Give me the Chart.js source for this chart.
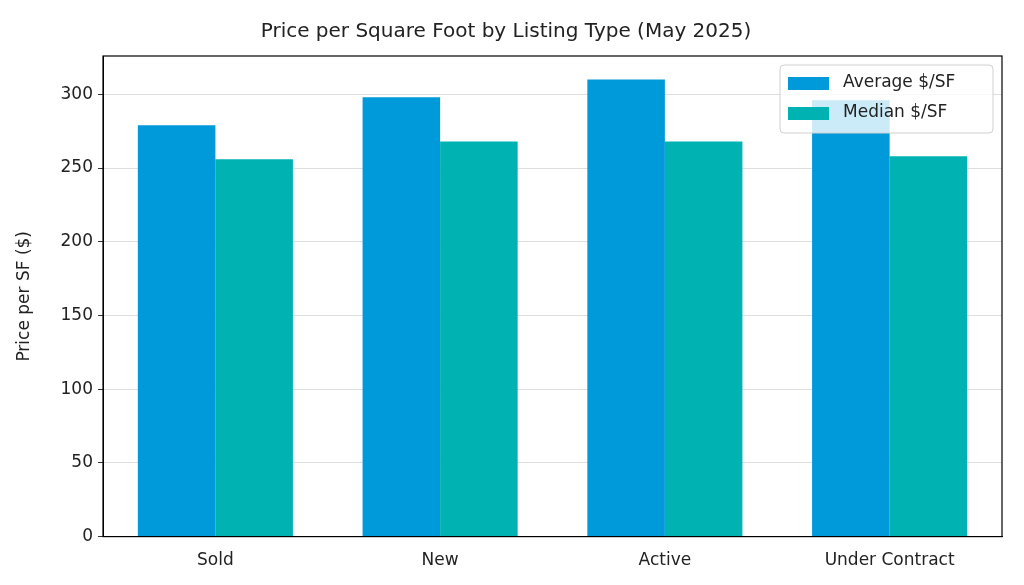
<!DOCTYPE html>
<html>
<head>
<meta charset="utf-8">
<script src="https://cdn.jsdelivr.net/npm/chart.js@4"></script>
<style>
  body { margin: 0; background: #fff; }
  #wrap { width: 1024px; height: 585px; }
</style>
</head>
<body>
<div id="wrap"><canvas id="c"></canvas></div>
<script>
const categories = ['Sold', 'New', 'Active', 'Under Contract'];
const averageValues = [279, 298, 310, 296];
const medianValues = [256, 268, 268, 258];
const yTicks = [0, 50, 100, 150, 200, 250, 300];

const FONT = 'DejaVu Sans';

// marco y leyenda dentro del área del gráfico
const framePlugin = {
  id: 'frame',
  afterDraw(chart) {
    const { ctx, chartArea: a } = chart;
    ctx.save();
    ctx.strokeStyle = '#000';
    ctx.lineWidth = 1.2;
    ctx.strokeRect(a.left, a.top, a.right - a.left, a.bottom - a.top);

    const w = 213, h = 68, x = a.right - w - 9, y = a.top + 9;
    ctx.fillStyle = 'rgba(255,255,255,0.8)';
    ctx.strokeStyle = '#d0d0d0';
    ctx.lineWidth = 1;
    ctx.beginPath();
    ctx.roundRect(x, y, w, h, 4);
    ctx.fill();
    ctx.stroke();
    ctx.font = '17px ' + FONT;
    ctx.textBaseline = 'middle';
    chart.data.datasets.forEach((ds, i) => {
      const ry = y + 18 + i * 30;
      ctx.fillStyle = ds.backgroundColor;
      ctx.fillRect(x + 8, ry - 6, 41, 13);
      ctx.fillStyle = '#222';
      ctx.fillText(ds.label, x + 63, ry);
    });
    ctx.restore();
  }
};

new Chart(document.getElementById('c'), {
  type: 'bar',
  data: {
    labels: categories,
    datasets: [
      { label: 'Average $/SF', data: averageValues, backgroundColor: '#0099D9' },
      { label: 'Median $/SF', data: medianValues, backgroundColor: '#00B2B1' }
    ]
  },
  options: {
    responsive: true,
    maintainAspectRatio: false,
    animation: false,
    layout: { padding: { top: 10, right: 22, bottom: 8, left: 10 } },
    datasets: { bar: { categoryPercentage: 0.69, barPercentage: 1.0 } },
    plugins: {
      legend: { display: false },
      tooltip: { enabled: false },
      title: {
        display: true,
        text: 'Price per Square Foot by Listing Type (May 2025)',
        color: '#222',
        font: { family: FONT, size: 20, weight: 'normal' },
        padding: { top: 10, bottom: 12 }
      }
    },
    scales: {
      x: {
        grid: { display: false },
        border: { color: '#000' },
        ticks: { color: '#222', font: { family: FONT, size: 17 }, padding: 6 }
      },
      y: {
        min: 0,
        max: 326,
        afterBuildTicks: axis => { axis.ticks = yTicks.map(v => ({ value: v })); },
        afterFit: axis => { axis.width = 93; },
        grid: { color: '#d5d5d5', lineWidth: 0.8, drawTicks: true, tickColor: '#000', tickLength: 5 },
        border: { color: '#000', dash: [] },
        ticks: { color: '#222', font: { family: FONT, size: 17 }, padding: 5 },
        title: {
          display: true,
          text: 'Price per SF ($)',
          color: '#222',
          font: { family: FONT, size: 17 }
        }
      }
    }
  },
  plugins: [framePlugin, {
    id: 'dashGrid',
    beforeDraw(chart) { chart.scales.y.options.grid.borderDash = [4, 3]; }
  }]
});
</script>
</body>
</html>
